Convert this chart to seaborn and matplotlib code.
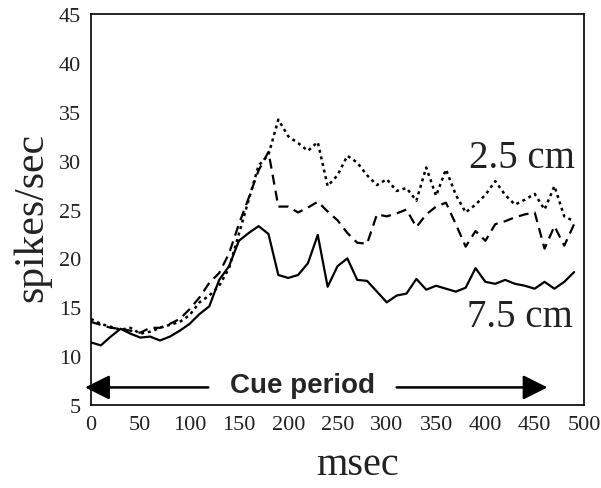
import pandas as pd
import seaborn as sns
import matplotlib.pyplot as plt

# time bins (msec)
msec = [0, 10, 20, 30, 40, 50, 60, 70, 80, 90,
        100, 110, 120, 130, 140, 150, 160, 170, 180, 190,
        200, 210, 220, 230, 240, 250, 260, 270, 280, 290,
        300, 310, 320, 330, 340, 350, 360, 370, 380, 390,
        400, 410, 420, 430, 440, 450, 460, 470, 480, 490]

# 2.5 cm (dotted)
rate_25 = [13.8, 13.3, 13.0, 12.7, 12.9, 12.3, 12.5, 12.9, 13.2, 13.5,
           14.2, 15.5, 16.2, 17.2, 19.0, 22.5, 26.0, 29.5, 30.6, 34.2,
           32.5, 31.8, 31.0, 31.9, 27.4, 28.5, 30.5, 29.8, 28.5, 27.5,
           28.1, 26.9, 27.2, 25.9, 29.3, 26.4, 29.1, 26.5, 24.7, 25.5,
           26.5, 27.9, 26.5, 25.5, 26.0, 26.6, 25.0, 27.4, 24.3, 23.8]

# intermediate distance (dashed)
rate_mid = [13.5, 13.2, 12.9, 12.8, 12.6, 12.4, 12.9, 12.9, 13.3, 13.8,
            14.8, 16.0, 17.5, 18.5, 20.5, 23.5, 26.2, 29.0, 30.9, 25.3,
            25.3, 24.7, 25.2, 25.8, 24.8, 23.9, 22.6, 21.6, 21.5, 24.5,
            24.3, 24.6, 25.0, 23.2, 24.5, 25.3, 25.7, 23.5, 21.2, 22.8,
            21.8, 23.5, 23.8, 24.2, 24.5, 24.7, 21.0, 23.3, 21.3, 23.5]

# 7.5 cm (solid)
rate_75 = [11.4, 11.1, 12.0, 12.8, 12.3, 11.9, 12.0, 11.6, 12.0, 12.6,
           13.3, 14.3, 15.1, 17.8, 19.2, 21.8, 22.6, 23.3, 22.5, 18.3,
           18.0, 18.3, 19.5, 22.4, 17.1, 19.2, 20.0, 17.8, 17.7, 16.6,
           15.5, 16.2, 16.4, 17.9, 16.8, 17.2, 16.9, 16.6, 17.0, 19.0,
           17.6, 17.4, 17.8, 17.4, 17.2, 16.9, 17.6, 16.9, 17.6, 18.6]

xticks = [0, 50, 100, 150, 200, 250, 300, 350, 400, 450, 500]
yticks = [5, 10, 15, 20, 25, 30, 35, 40, 45]

df = pd.DataFrame({'msec': msec, 'd25': rate_25, 'mid': rate_mid, 'd75': rate_75})

sns.set_style('white')
plt.rcParams['font.family'] = ['Liberation Serif', 'DejaVu Serif']

fig = plt.figure(figsize=(6.01, 4.89), dpi=100)
ax = fig.add_axes([0.1514, 0.1697, 0.8203, 0.7996])

sns.lineplot(data=df, x='msec', y='d25', ax=ax, color='black', lw=1.8,
             linestyle=(0, (1.2, 1.5)))
sns.lineplot(data=df, x='msec', y='mid', ax=ax, color='black', lw=1.6,
             linestyle=(0, (4.5, 2.8)))
sns.lineplot(data=df, x='msec', y='d75', ax=ax, color='black', lw=1.6)

ax.set_xlim(0, 500)
ax.set_ylim(5, 45)
ax.set_xticks(xticks)
ax.set_yticks(yticks)
ax.tick_params(length=0, labelsize=16, colors='#222222', pad=7)
for s in ax.spines.values():
    s.set_color('black')
    s.set_linewidth(1.2)

ax.set_xlabel('msec', fontsize=29, color='#222222')
ax.xaxis.set_label_coords(0.54, -0.105)
ax.set_ylabel('spikes/sec', fontsize=30, color='#222222')
ax.yaxis.set_label_coords(-0.081, 0.481)

# distance labels
ax.text(437, 29.4, '2.5 cm', fontsize=28, ha='center', va='baseline', color='#222222')
ax.text(435, 13.1, '7.5 cm', fontsize=28, ha='center', va='baseline', color='#222222')

# cue period arrow
arrow = dict(arrowstyle='-|>,head_length=1.5,head_width=0.75', lw=1.8,
             color='black', shrinkA=0, shrinkB=0)
ax.annotate('', xy=(-6, 6.8), xytext=(119, 6.8), arrowprops=arrow,
            annotation_clip=False)
ax.annotate('', xy=(463, 6.8), xytext=(310, 6.8), arrowprops=arrow,
            annotation_clip=False)
ax.text(215, 6.3, 'Cue period', fontsize=20, fontweight='bold', ha='center',
        va='baseline', family=['Liberation Sans', 'DejaVu Sans'])

fig.savefig('out.png', dpi=100)
